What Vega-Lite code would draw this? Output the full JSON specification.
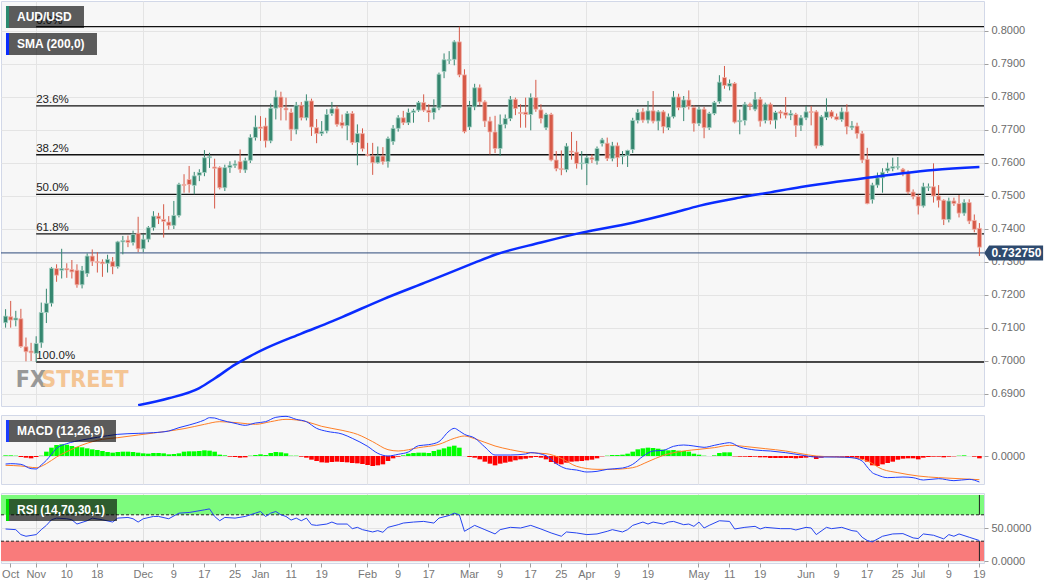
{
  "$schema": "https://vega.github.io/schema/vega-lite/v6.json",
  "padding": 0,
  "background": "#ffffff",
  "spacing": 9,
  "bounds": "flush",
  "config": {
    "font": "Liberation Sans",
    "view": {"fill": "#f7f7f7", "stroke": "#d2d8e8", "strokeWidth": 1},
    "axis": {"labelFont": "Liberation Sans", "labelFontSize": 11, "labelColor": "#6b6b6b", "tickColor": "#a0a0a0", "gridColor": "#e4e4e4", "domain": false, "labelOverlap": false, "labelBound": false, "labelFlush": false, "title": null}
  },
  "resolve": {"scale": {"x": "shared"}},
  "datasets": {
    "one": [{}],
    "px": [
{"d":"2020-10-23","o":0.7116,"h":0.7157,"l":0.7101,"c":0.7136,"m":0.0002},
{"d":"2020-10-26","o":0.7134,"h":0.7182,"l":0.7101,"c":0.7124,"m":0.0002},
{"d":"2020-10-27","o":0.7124,"h":0.7152,"l":0.7105,"c":0.7130,"m":0.0001},
{"d":"2020-10-28","o":0.7128,"h":0.7158,"l":0.7040,"c":0.7044,"m":-0.0003},
{"d":"2020-10-29","o":0.7043,"h":0.7071,"l":0.6999,"c":0.7028,"m":-0.0005},
{"d":"2020-10-30","o":0.7030,"h":0.7055,"l":0.7000,"c":0.7025,"m":-0.0007},
{"d":"2020-11-02","o":0.7023,"h":0.7075,"l":0.6997,"c":0.7053,"m":-0.0003},
{"d":"2020-11-03","o":0.7055,"h":0.7177,"l":0.7040,"c":0.7147,"m":0.0001},
{"d":"2020-11-04","o":0.7147,"h":0.7219,"l":0.7115,"c":0.7175,"m":0.0013},
{"d":"2020-11-05","o":0.7175,"h":0.7285,"l":0.7165,"c":0.7281,"m":0.0025},
{"d":"2020-11-06","o":0.7280,"h":0.7293,"l":0.7240,"c":0.7260,"m":0.0033},
{"d":"2020-11-09","o":0.7275,"h":0.7340,"l":0.7250,"c":0.7280,"m":0.0035},
{"d":"2020-11-10","o":0.7280,"h":0.7296,"l":0.7252,"c":0.7276,"m":0.0034},
{"d":"2020-11-11","o":0.7277,"h":0.7306,"l":0.7250,"c":0.7270,"m":0.0030},
{"d":"2020-11-12","o":0.7275,"h":0.7293,"l":0.7222,"c":0.7231,"m":0.0027},
{"d":"2020-11-13","o":0.7231,"h":0.7288,"l":0.7220,"c":0.7274,"m":0.0026},
{"d":"2020-11-16","o":0.7265,"h":0.7326,"l":0.7255,"c":0.7318,"m":0.0023},
{"d":"2020-11-17","o":0.7318,"h":0.7338,"l":0.7288,"c":0.7302,"m":0.0020},
{"d":"2020-11-18","o":0.7301,"h":0.7330,"l":0.7268,"c":0.7298,"m":0.0018},
{"d":"2020-11-19","o":0.7300,"h":0.7308,"l":0.7255,"c":0.7295,"m":0.0015},
{"d":"2020-11-20","o":0.7296,"h":0.7322,"l":0.7268,"c":0.7308,"m":0.0012},
{"d":"2020-11-23","o":0.7301,"h":0.7315,"l":0.7263,"c":0.7286,"m":0.0010},
{"d":"2020-11-24","o":0.7286,"h":0.7364,"l":0.7280,"c":0.7361,"m":0.0012},
{"d":"2020-11-25","o":0.7361,"h":0.7379,"l":0.7323,"c":0.7365,"m":0.0013},
{"d":"2020-11-26","o":0.7366,"h":0.7380,"l":0.7345,"c":0.7359,"m":0.0013},
{"d":"2020-11-27","o":0.7359,"h":0.7395,"l":0.7350,"c":0.7384,"m":0.0012},
{"d":"2020-11-30","o":0.7387,"h":0.7437,"l":0.7330,"c":0.7340,"m":0.0010},
{"d":"2020-12-01","o":0.7340,"h":0.7385,"l":0.7330,"c":0.7369,"m":0.0008},
{"d":"2020-12-02","o":0.7369,"h":0.7409,"l":0.7360,"c":0.7404,"m":0.0007},
{"d":"2020-12-03","o":0.7404,"h":0.7454,"l":0.7395,"c":0.7439,"m":0.0009},
{"d":"2020-12-04","o":0.7439,"h":0.7449,"l":0.7415,"c":0.7431,"m":0.0009},
{"d":"2020-12-07","o":0.7429,"h":0.7475,"l":0.7374,"c":0.7423,"m":0.0008},
{"d":"2020-12-08","o":0.7421,"h":0.7439,"l":0.7398,"c":0.7411,"m":0.0005},
{"d":"2020-12-09","o":0.7411,"h":0.7485,"l":0.7400,"c":0.7441,"m":0.0006},
{"d":"2020-12-10","o":0.7441,"h":0.7540,"l":0.7435,"c":0.7535,"m":0.0008},
{"d":"2020-12-11","o":0.7535,"h":0.7566,"l":0.7510,"c":0.7532,"m":0.0013},
{"d":"2020-12-14","o":0.7550,"h":0.7591,"l":0.7510,"c":0.7535,"m":0.0014},
{"d":"2020-12-15","o":0.7532,"h":0.7573,"l":0.7505,"c":0.7561,"m":0.0014},
{"d":"2020-12-16","o":0.7563,"h":0.7581,"l":0.7545,"c":0.7571,"m":0.0015},
{"d":"2020-12-17","o":0.7571,"h":0.7639,"l":0.7560,"c":0.7616,"m":0.0017},
{"d":"2020-12-18","o":0.7616,"h":0.7631,"l":0.7585,"c":0.7619,"m":0.0016},
{"d":"2020-12-21","o":0.7588,"h":0.7613,"l":0.7462,"c":0.7584,"m":0.0013},
{"d":"2020-12-22","o":0.7586,"h":0.7590,"l":0.7520,"c":0.7525,"m":0.0004},
{"d":"2020-12-23","o":0.7525,"h":0.7595,"l":0.7515,"c":0.7586,"m":0.0002},
{"d":"2020-12-24","o":0.7586,"h":0.7605,"l":0.7570,"c":0.7593,"m":-0.0002},
{"d":"2020-12-25","o":0.7593,"h":0.7608,"l":0.7585,"c":0.7597,"m":-0.0003},
{"d":"2020-12-28","o":0.7604,"h":0.7641,"l":0.7570,"c":0.7581,"m":-0.0005},
{"d":"2020-12-29","o":0.7579,"h":0.7616,"l":0.7570,"c":0.7607,"m":-0.0004},
{"d":"2020-12-30","o":0.7608,"h":0.7687,"l":0.7600,"c":0.7677,"m":0.0001},
{"d":"2020-12-31","o":0.7677,"h":0.7744,"l":0.7668,"c":0.7709,"m":0.0003},
{"d":"2021-01-01","o":0.7709,"h":0.7742,"l":0.7667,"c":0.7705,"m":0.0005},
{"d":"2021-01-04","o":0.7712,"h":0.7737,"l":0.7647,"c":0.7667,"m":0.0003},
{"d":"2021-01-05","o":0.7667,"h":0.7780,"l":0.7660,"c":0.7766,"m":0.0009},
{"d":"2021-01-06","o":0.7766,"h":0.7820,"l":0.7732,"c":0.7800,"m":0.0012},
{"d":"2021-01-07","o":0.7800,"h":0.7816,"l":0.7729,"c":0.7768,"m":0.0011},
{"d":"2021-01-08","o":0.7766,"h":0.7798,"l":0.7729,"c":0.7761,"m":0.0008},
{"d":"2021-01-11","o":0.7753,"h":0.7765,"l":0.7667,"c":0.7702,"m":0.0001},
{"d":"2021-01-12","o":0.7702,"h":0.7785,"l":0.7687,"c":0.7775,"m":0.0001},
{"d":"2021-01-13","o":0.7775,"h":0.7785,"l":0.7729,"c":0.7737,"m":-0.0002},
{"d":"2021-01-14","o":0.7737,"h":0.7808,"l":0.7729,"c":0.7788,"m":-0.0005},
{"d":"2021-01-15","o":0.7788,"h":0.7795,"l":0.7682,"c":0.7709,"m":-0.0011},
{"d":"2021-01-18","o":0.7707,"h":0.7733,"l":0.7660,"c":0.7689,"m":-0.0015},
{"d":"2021-01-19","o":0.7689,"h":0.7727,"l":0.7682,"c":0.7695,"m":-0.0019},
{"d":"2021-01-20","o":0.7697,"h":0.7763,"l":0.7690,"c":0.7747,"m":-0.0020},
{"d":"2021-01-21","o":0.7750,"h":0.7785,"l":0.7743,"c":0.7764,"m":-0.0018},
{"d":"2021-01-22","o":0.7764,"h":0.7773,"l":0.7710,"c":0.7717,"m":-0.0017},
{"d":"2021-01-25","o":0.7723,"h":0.7747,"l":0.7705,"c":0.7713,"m":-0.0018},
{"d":"2021-01-26","o":0.7713,"h":0.7757,"l":0.7669,"c":0.7750,"m":-0.0019},
{"d":"2021-01-27","o":0.7750,"h":0.7757,"l":0.7655,"c":0.7662,"m":-0.0021},
{"d":"2021-01-28","o":0.7662,"h":0.7717,"l":0.7593,"c":0.7689,"m":-0.0022},
{"d":"2021-01-29","o":0.7689,"h":0.7705,"l":0.7635,"c":0.7643,"m":-0.0024},
{"d":"2021-02-01","o":0.7626,"h":0.7661,"l":0.7620,"c":0.7623,"m":-0.0027},
{"d":"2021-02-02","o":0.7621,"h":0.7661,"l":0.7564,"c":0.7601,"m":-0.0030},
{"d":"2021-02-03","o":0.7601,"h":0.7650,"l":0.7598,"c":0.7621,"m":-0.0028},
{"d":"2021-02-04","o":0.7621,"h":0.7648,"l":0.7595,"c":0.7604,"m":-0.0025},
{"d":"2021-02-05","o":0.7604,"h":0.7680,"l":0.7586,"c":0.7674,"m":-0.0015},
{"d":"2021-02-08","o":0.7665,"h":0.7715,"l":0.7655,"c":0.7705,"m":-0.0007},
{"d":"2021-02-09","o":0.7705,"h":0.7745,"l":0.7695,"c":0.7737,"m":-0.0002},
{"d":"2021-02-10","o":0.7737,"h":0.7758,"l":0.7715,"c":0.7722,"m":0.0002},
{"d":"2021-02-11","o":0.7722,"h":0.7765,"l":0.7715,"c":0.7753,"m":0.0007},
{"d":"2021-02-12","o":0.7753,"h":0.7764,"l":0.7722,"c":0.7758,"m":0.0009},
{"d":"2021-02-15","o":0.7760,"h":0.7788,"l":0.7755,"c":0.7783,"m":0.0010},
{"d":"2021-02-16","o":0.7783,"h":0.7808,"l":0.7755,"c":0.7760,"m":0.0010},
{"d":"2021-02-17","o":0.7760,"h":0.7778,"l":0.7724,"c":0.7753,"m":0.0009},
{"d":"2021-02-18","o":0.7753,"h":0.7793,"l":0.7732,"c":0.7767,"m":0.0015},
{"d":"2021-02-19","o":0.7767,"h":0.7874,"l":0.7760,"c":0.7869,"m":0.0019},
{"d":"2021-02-22","o":0.7877,"h":0.7932,"l":0.7857,"c":0.7913,"m":0.0023},
{"d":"2021-02-23","o":0.7911,"h":0.7939,"l":0.7900,"c":0.7913,"m":0.0028},
{"d":"2021-02-24","o":0.7914,"h":0.7972,"l":0.7896,"c":0.7967,"m":0.0031},
{"d":"2021-02-25","o":0.7967,"h":0.8013,"l":0.7860,"c":0.7867,"m":0.0025},
{"d":"2021-02-26","o":0.7867,"h":0.7884,"l":0.7690,"c":0.7695,"m":0.0000},
{"d":"2021-03-01","o":0.7709,"h":0.7788,"l":0.7700,"c":0.7770,"m":-0.0003},
{"d":"2021-03-02","o":0.7770,"h":0.7840,"l":0.7760,"c":0.7828,"m":-0.0005},
{"d":"2021-03-03","o":0.7828,"h":0.7838,"l":0.7775,"c":0.7785,"m":-0.0010},
{"d":"2021-03-04","o":0.7785,"h":0.7790,"l":0.7709,"c":0.7727,"m":-0.0017},
{"d":"2021-03-05","o":0.7727,"h":0.7740,"l":0.7626,"c":0.7694,"m":-0.0023},
{"d":"2021-03-08","o":0.7694,"h":0.7743,"l":0.7630,"c":0.7644,"m":-0.0028},
{"d":"2021-03-09","o":0.7644,"h":0.7747,"l":0.7621,"c":0.7717,"m":-0.0023},
{"d":"2021-03-10","o":0.7717,"h":0.7747,"l":0.7705,"c":0.7735,"m":-0.0020},
{"d":"2021-03-11","o":0.7735,"h":0.7803,"l":0.7727,"c":0.7793,"m":-0.0017},
{"d":"2021-03-12","o":0.7793,"h":0.7798,"l":0.7745,"c":0.7765,"m":-0.0013},
{"d":"2021-03-15","o":0.7753,"h":0.7778,"l":0.7707,"c":0.7750,"m":-0.0010},
{"d":"2021-03-16","o":0.7754,"h":0.7798,"l":0.7707,"c":0.7747,"m":-0.0008},
{"d":"2021-03-17","o":0.7747,"h":0.7811,"l":0.7699,"c":0.7798,"m":-0.0005},
{"d":"2021-03-18","o":0.7798,"h":0.7852,"l":0.7755,"c":0.7763,"m":-0.0003},
{"d":"2021-03-19","o":0.7761,"h":0.7778,"l":0.7720,"c":0.7735,"m":-0.0005},
{"d":"2021-03-22","o":0.7707,"h":0.7752,"l":0.7700,"c":0.7747,"m":-0.0010},
{"d":"2021-03-23","o":0.7747,"h":0.7752,"l":0.7605,"c":0.7609,"m":-0.0018},
{"d":"2021-03-24","o":0.7609,"h":0.7636,"l":0.7575,"c":0.7583,"m":-0.0023},
{"d":"2021-03-25","o":0.7583,"h":0.7638,"l":0.7563,"c":0.7580,"m":-0.0025},
{"d":"2021-03-26","o":0.7580,"h":0.7660,"l":0.7572,"c":0.7651,"m":-0.0020},
{"d":"2021-03-29","o":0.7636,"h":0.7694,"l":0.7610,"c":0.7633,"m":-0.0017},
{"d":"2021-03-30","o":0.7633,"h":0.7667,"l":0.7583,"c":0.7598,"m":-0.0016},
{"d":"2021-03-31","o":0.7598,"h":0.7636,"l":0.7580,"c":0.7600,"m":-0.0015},
{"d":"2021-04-01","o":0.7598,"h":0.7625,"l":0.7533,"c":0.7616,"m":-0.0013},
{"d":"2021-04-02","o":0.7616,"h":0.7626,"l":0.7600,"c":0.7611,"m":-0.0011},
{"d":"2021-04-05","o":0.7606,"h":0.7650,"l":0.7595,"c":0.7644,"m":-0.0007},
{"d":"2021-04-06","o":0.7659,"h":0.7676,"l":0.7650,"c":0.7670,"m":-0.0001},
{"d":"2021-04-07","o":0.7660,"h":0.7677,"l":0.7606,"c":0.7614,"m":0.0001},
{"d":"2021-04-08","o":0.7614,"h":0.7664,"l":0.7605,"c":0.7652,"m":0.0003},
{"d":"2021-04-09","o":0.7652,"h":0.7662,"l":0.7588,"c":0.7616,"m":0.0003},
{"d":"2021-04-12","o":0.7620,"h":0.7636,"l":0.7596,"c":0.7622,"m":0.0004},
{"d":"2021-04-13","o":0.7623,"h":0.7640,"l":0.7588,"c":0.7638,"m":0.0007},
{"d":"2021-04-14","o":0.7641,"h":0.7737,"l":0.7630,"c":0.7729,"m":0.0013},
{"d":"2021-04-15","o":0.7729,"h":0.7763,"l":0.7720,"c":0.7753,"m":0.0020},
{"d":"2021-04-16","o":0.7755,"h":0.7766,"l":0.7722,"c":0.7730,"m":0.0023},
{"d":"2021-04-19","o":0.7730,"h":0.7788,"l":0.7720,"c":0.7758,"m":0.0025},
{"d":"2021-04-20","o":0.7758,"h":0.7818,"l":0.7720,"c":0.7727,"m":0.0024},
{"d":"2021-04-21","o":0.7727,"h":0.7760,"l":0.7699,"c":0.7755,"m":0.0022},
{"d":"2021-04-22","o":0.7755,"h":0.7760,"l":0.7690,"c":0.7710,"m":0.0019},
{"d":"2021-04-23","o":0.7707,"h":0.7750,"l":0.7700,"c":0.7740,"m":0.0017},
{"d":"2021-04-26","o":0.7740,"h":0.7818,"l":0.7735,"c":0.7800,"m":0.0018},
{"d":"2021-04-27","o":0.7800,"h":0.7810,"l":0.7760,"c":0.7768,"m":0.0016},
{"d":"2021-04-28","o":0.7768,"h":0.7803,"l":0.7727,"c":0.7791,"m":0.0015},
{"d":"2021-04-29","o":0.7791,"h":0.7820,"l":0.7762,"c":0.7771,"m":0.0013},
{"d":"2021-04-30","o":0.7768,"h":0.7775,"l":0.7695,"c":0.7720,"m":0.0007},
{"d":"2021-05-03","o":0.7720,"h":0.7770,"l":0.7712,"c":0.7763,"m":0.0004},
{"d":"2021-05-04","o":0.7763,"h":0.7770,"l":0.7675,"c":0.7707,"m":0.0001},
{"d":"2021-05-05","o":0.7707,"h":0.7755,"l":0.7700,"c":0.7750,"m":0.0000},
{"d":"2021-05-06","o":0.7750,"h":0.7788,"l":0.7745,"c":0.7783,"m":0.0002},
{"d":"2021-05-07","o":0.7786,"h":0.7866,"l":0.7780,"c":0.7845,"m":0.0009},
{"d":"2021-05-10","o":0.7859,"h":0.7894,"l":0.7825,"c":0.7835,"m":0.0011},
{"d":"2021-05-11","o":0.7833,"h":0.7853,"l":0.7820,"c":0.7841,"m":0.0011},
{"d":"2021-05-12","o":0.7841,"h":0.7845,"l":0.7720,"c":0.7724,"m":-0.0001},
{"d":"2021-05-13","o":0.7725,"h":0.7762,"l":0.7687,"c":0.7729,"m":-0.0002},
{"d":"2021-05-14","o":0.7729,"h":0.7785,"l":0.7714,"c":0.7778,"m":-0.0002},
{"d":"2021-05-17","o":0.7778,"h":0.7783,"l":0.7760,"c":0.7773,"m":-0.0003},
{"d":"2021-05-18","o":0.7763,"h":0.7815,"l":0.7757,"c":0.7793,"m":-0.0002},
{"d":"2021-05-19","o":0.7793,"h":0.7800,"l":0.7710,"c":0.7727,"m":-0.0004},
{"d":"2021-05-20","o":0.7729,"h":0.7783,"l":0.7720,"c":0.7778,"m":-0.0004},
{"d":"2021-05-21","o":0.7778,"h":0.7783,"l":0.7717,"c":0.7729,"m":-0.0006},
{"d":"2021-05-24","o":0.7730,"h":0.7758,"l":0.7704,"c":0.7753,"m":-0.0006},
{"d":"2021-05-25","o":0.7755,"h":0.7760,"l":0.7735,"c":0.7751,"m":-0.0006},
{"d":"2021-05-26","o":0.7753,"h":0.7800,"l":0.7735,"c":0.7745,"m":-0.0006},
{"d":"2021-05-27","o":0.7745,"h":0.7760,"l":0.7730,"c":0.7750,"m":-0.0006},
{"d":"2021-05-28","o":0.7747,"h":0.7752,"l":0.7679,"c":0.7714,"m":-0.0007},
{"d":"2021-05-31","o":0.7714,"h":0.7745,"l":0.7697,"c":0.7737,"m":-0.0006},
{"d":"2021-06-01","o":0.7737,"h":0.7773,"l":0.7730,"c":0.7755,"m":-0.0005},
{"d":"2021-06-02","o":0.7756,"h":0.7773,"l":0.7714,"c":0.7753,"m":-0.0003},
{"d":"2021-06-03","o":0.7755,"h":0.7760,"l":0.7644,"c":0.7652,"m":-0.0009},
{"d":"2021-06-04","o":0.7653,"h":0.7745,"l":0.7650,"c":0.7740,"m":-0.0005},
{"d":"2021-06-07","o":0.7738,"h":0.7796,"l":0.7730,"c":0.7755,"m":-0.0002},
{"d":"2021-06-08","o":0.7755,"h":0.7760,"l":0.7735,"c":0.7740,"m":-0.0002},
{"d":"2021-06-09","o":0.7740,"h":0.7750,"l":0.7729,"c":0.7732,"m":-0.0002},
{"d":"2021-06-10","o":0.7732,"h":0.7768,"l":0.7725,"c":0.7755,"m":-0.0002},
{"d":"2021-06-11","o":0.7755,"h":0.7778,"l":0.7687,"c":0.7710,"m":-0.0003},
{"d":"2021-06-14","o":0.7707,"h":0.7727,"l":0.7700,"c":0.7712,"m":-0.0003},
{"d":"2021-06-15","o":0.7712,"h":0.7722,"l":0.7674,"c":0.7689,"m":-0.0005},
{"d":"2021-06-16","o":0.7689,"h":0.7697,"l":0.7600,"c":0.7609,"m":-0.0009},
{"d":"2021-06-17","o":0.7611,"h":0.7646,"l":0.7475,"c":0.7477,"m":-0.0017},
{"d":"2021-06-18","o":0.7489,"h":0.7540,"l":0.7477,"c":0.7533,"m":-0.0028},
{"d":"2021-06-21","o":0.7533,"h":0.7571,"l":0.7525,"c":0.7555,"m":-0.0030},
{"d":"2021-06-22","o":0.7555,"h":0.7584,"l":0.7510,"c":0.7572,"m":-0.0025},
{"d":"2021-06-23","o":0.7576,"h":0.7601,"l":0.7570,"c":0.7584,"m":-0.0021},
{"d":"2021-06-24","o":0.7584,"h":0.7616,"l":0.7575,"c":0.7589,"m":-0.0017},
{"d":"2021-06-25","o":0.7587,"h":0.7618,"l":0.7580,"c":0.7589,"m":-0.0011},
{"d":"2021-06-28","o":0.7581,"h":0.7585,"l":0.7560,"c":0.7571,"m":-0.0008},
{"d":"2021-06-29","o":0.7571,"h":0.7578,"l":0.7505,"c":0.7512,"m":-0.0007},
{"d":"2021-06-30","o":0.7512,"h":0.7520,"l":0.7490,"c":0.7498,"m":-0.0007},
{"d":"2021-07-01","o":0.7498,"h":0.7505,"l":0.7444,"c":0.7470,"m":-0.0010},
{"d":"2021-07-02","o":0.7470,"h":0.7540,"l":0.7465,"c":0.7528,"m":-0.0005},
{"d":"2021-07-05","o":0.7525,"h":0.7538,"l":0.7515,"c":0.7528,"m":-0.0003},
{"d":"2021-07-06","o":0.7528,"h":0.7599,"l":0.7480,"c":0.7500,"m":-0.0002},
{"d":"2021-07-07","o":0.7500,"h":0.7533,"l":0.7465,"c":0.7487,"m":-0.0002},
{"d":"2021-07-08","o":0.7487,"h":0.7490,"l":0.7412,"c":0.7429,"m":-0.0004},
{"d":"2021-07-09","o":0.7429,"h":0.7495,"l":0.7420,"c":0.7485,"m":-0.0002},
{"d":"2021-07-12","o":0.7485,"h":0.7495,"l":0.7470,"c":0.7477,"m":-0.0001},
{"d":"2021-07-13","o":0.7477,"h":0.7503,"l":0.7435,"c":0.7448,"m":0.0001},
{"d":"2021-07-14","o":0.7448,"h":0.7490,"l":0.7440,"c":0.7480,"m":0.0002},
{"d":"2021-07-15","o":0.7480,"h":0.7490,"l":0.7415,"c":0.7424,"m":0.0000},
{"d":"2021-07-16","o":0.7426,"h":0.7444,"l":0.7390,"c":0.7399,"m":-0.0002},
{"d":"2021-07-19","o":0.7402,"h":0.7418,"l":0.7318,"c":0.7345,"m":-0.0007}
    ],
    "sma": [
{"d":"2020-11-30","v":0.6866},{"d":"2020-12-08","v":0.6887},{"d":"2020-12-16","v":0.6918},{"d":"2020-12-21","v":0.6947},{"d":"2020-12-25","v":0.6989},{"d":"2020-12-30","v":0.7015},{"d":"2021-01-04","v":0.7038},{"d":"2021-01-13","v":0.7083},{"d":"2021-01-21","v":0.7120},{"d":"2021-01-25","v":0.7133},{"d":"2021-02-04","v":0.7187},{"d":"2021-02-17","v":0.7242},{"d":"2021-03-02","v":0.7298},{"d":"2021-03-08","v":0.7322},{"d":"2021-03-19","v":0.7359},{"d":"2021-03-31","v":0.7389},{"d":"2021-04-14","v":0.7419},{"d":"2021-04-26","v":0.7449},{"d":"2021-05-03","v":0.7470},{"d":"2021-05-13","v":0.7495},{"d":"2021-05-21","v":0.7511},{"d":"2021-05-31","v":0.7527},{"d":"2021-06-09","v":0.7543},{"d":"2021-06-17","v":0.7555},{"d":"2021-06-28","v":0.7569},{"d":"2021-07-06","v":0.7579},{"d":"2021-07-19","v":0.7588}
    ],
    "macd": [
{"d":"2020-10-23","v":-0.0024},{"d":"2020-10-26","v":-0.0023},{"d":"2020-10-28","v":-0.0025},{"d":"2020-10-30","v":-0.0038},{"d":"2020-11-02","v":-0.0039},{"d":"2020-11-03","v":-0.0027},{"d":"2020-11-04","v":-0.0013},{"d":"2020-11-05","v":0.0005},{"d":"2020-11-06","v":0.0023},{"d":"2020-11-10","v":0.0037},{"d":"2020-11-13","v":0.0048},{"d":"2020-11-18","v":0.0056},{"d":"2020-11-24","v":0.0065},{"d":"2020-11-30","v":0.0068},{"d":"2020-12-03","v":0.0070},{"d":"2020-12-08","v":0.0075},{"d":"2020-12-10","v":0.0085},{"d":"2020-12-14","v":0.0093},{"d":"2020-12-17","v":0.0108},{"d":"2020-12-18","v":0.0115},{"d":"2020-12-21","v":0.0114},{"d":"2020-12-22","v":0.0109},{"d":"2020-12-25","v":0.0098},{"d":"2020-12-29","v":0.0092},{"d":"2020-12-31","v":0.0099},{"d":"2021-01-04","v":0.0103},{"d":"2021-01-06","v":0.0116},{"d":"2021-01-08","v":0.0119},{"d":"2021-01-12","v":0.0110},{"d":"2021-01-14","v":0.0103},{"d":"2021-01-18","v":0.0083},{"d":"2021-01-20","v":0.0074},{"d":"2021-01-25","v":0.0066},{"d":"2021-01-27","v":0.0053},{"d":"2021-02-01","v":0.0029},{"d":"2021-02-03","v":0.0008},{"d":"2021-02-05","v":0.0000},{"d":"2021-02-09","v":0.0005},{"d":"2021-02-11","v":0.0012},{"d":"2021-02-15","v":0.0031},{"d":"2021-02-17","v":0.0034},{"d":"2021-02-19","v":0.0043},{"d":"2021-02-23","v":0.0075},{"d":"2021-02-24","v":0.0083},{"d":"2021-02-25","v":0.0075},{"d":"2021-02-26","v":0.0065},{"d":"2021-03-02","v":0.0054},{"d":"2021-03-04","v":0.0027},{"d":"2021-03-08","v":0.0003},{"d":"2021-03-11","v":0.0003},{"d":"2021-03-16","v":0.0006},{"d":"2021-03-17","v":0.0010},{"d":"2021-03-22","v":0.0001},{"d":"2021-03-24","v":-0.0023},{"d":"2021-03-26","v":-0.0038},{"d":"2021-03-30","v":-0.0042},{"d":"2021-04-01","v":-0.0048},{"d":"2021-04-05","v":-0.0046},{"d":"2021-04-07","v":-0.0040},{"d":"2021-04-12","v":-0.0036},{"d":"2021-04-14","v":-0.0025},{"d":"2021-04-16","v":-0.0001},{"d":"2021-04-20","v":0.0015},{"d":"2021-04-22","v":0.0017},{"d":"2021-04-26","v":0.0029},{"d":"2021-04-28","v":0.0033},{"d":"2021-04-30","v":0.0030},{"d":"2021-05-04","v":0.0026},{"d":"2021-05-06","v":0.0032},{"d":"2021-05-10","v":0.0038},{"d":"2021-05-11","v":0.0040},{"d":"2021-05-13","v":0.0027},{"d":"2021-05-18","v":0.0018},{"d":"2021-05-21","v":0.0015},{"d":"2021-05-26","v":0.0010},{"d":"2021-05-31","v":0.0003},{"d":"2021-06-03","v":-0.0003},{"d":"2021-06-09","v":-0.0003},{"d":"2021-06-14","v":-0.0005},{"d":"2021-06-16","v":-0.0015},{"d":"2021-06-17","v":-0.0033},{"d":"2021-06-18","v":-0.0050},{"d":"2021-06-21","v":-0.0057},{"d":"2021-06-23","v":-0.0065},{"d":"2021-06-28","v":-0.0063},{"d":"2021-06-30","v":-0.0065},{"d":"2021-07-02","v":-0.0072},{"d":"2021-07-07","v":-0.0068},{"d":"2021-07-12","v":-0.0074},{"d":"2021-07-15","v":-0.0070},{"d":"2021-07-19","v":-0.0078}
    ],
    "sig": [
{"d":"2020-10-23","v":-0.0028},{"d":"2020-10-28","v":-0.0030},{"d":"2020-11-02","v":-0.0035},{"d":"2020-11-04","v":-0.0023},{"d":"2020-11-06","v":-0.0003},{"d":"2020-11-10","v":0.0013},{"d":"2020-11-13","v":0.0033},{"d":"2020-11-19","v":0.0050},{"d":"2020-11-24","v":0.0055},{"d":"2020-11-30","v":0.0063},{"d":"2020-12-08","v":0.0075},{"d":"2020-12-11","v":0.0082},{"d":"2020-12-17","v":0.0095},{"d":"2020-12-22","v":0.0103},{"d":"2020-12-28","v":0.0099},{"d":"2020-12-31","v":0.0095},{"d":"2021-01-05","v":0.0103},{"d":"2021-01-08","v":0.0110},{"d":"2021-01-14","v":0.0103},{"d":"2021-01-19","v":0.0089},{"d":"2021-01-25","v":0.0077},{"d":"2021-01-28","v":0.0065},{"d":"2021-02-02","v":0.0043},{"d":"2021-02-05","v":0.0019},{"d":"2021-02-09","v":0.0015},{"d":"2021-02-15","v":0.0025},{"d":"2021-02-19","v":0.0035},{"d":"2021-02-24","v":0.0053},{"d":"2021-02-26","v":0.0060},{"d":"2021-03-02","v":0.0052},{"d":"2021-03-08","v":0.0030},{"d":"2021-03-11","v":0.0019},{"d":"2021-03-16","v":0.0011},{"d":"2021-03-22","v":0.0007},{"d":"2021-03-25","v":-0.0007},{"d":"2021-03-30","v":-0.0031},{"d":"2021-04-05","v":-0.0040},{"d":"2021-04-08","v":-0.0040},{"d":"2021-04-14","v":-0.0035},{"d":"2021-04-19","v":-0.0017},{"d":"2021-04-22","v":0.0002},{"d":"2021-04-28","v":0.0015},{"d":"2021-05-03","v":0.0020},{"d":"2021-05-06","v":0.0025},{"d":"2021-05-11","v":0.0032},{"d":"2021-05-17","v":0.0027},{"d":"2021-05-20","v":0.0022},{"d":"2021-05-26","v":0.0015},{"d":"2021-05-31","v":0.0007},{"d":"2021-06-03","v":0.0000},{"d":"2021-06-09","v":-0.0003},{"d":"2021-06-14","v":-0.0005},{"d":"2021-06-17","v":-0.0015},{"d":"2021-06-22","v":-0.0040},{"d":"2021-06-25","v":-0.0050},{"d":"2021-07-01","v":-0.0060},{"d":"2021-07-07","v":-0.0065},{"d":"2021-07-13","v":-0.0068},{"d":"2021-07-19","v":-0.0071}
    ],
    "rsi": [
{"d":"2020-10-23","v":48.5},{"d":"2020-10-27","v":47.5},{"d":"2020-10-28","v":40},{"d":"2020-10-29","v":37.5},{"d":"2020-11-02","v":40},{"d":"2020-11-03","v":47.5},{"d":"2020-11-04","v":54},{"d":"2020-11-05","v":62.5},{"d":"2020-11-06","v":65},{"d":"2020-11-10","v":64},{"d":"2020-11-11","v":62.5},{"d":"2020-11-12","v":56},{"d":"2020-11-16","v":61},{"d":"2020-11-17","v":65},{"d":"2020-11-19","v":62.5},{"d":"2020-11-23","v":59},{"d":"2020-11-24","v":65},{"d":"2020-11-26","v":66},{"d":"2020-11-27","v":64},{"d":"2020-11-30","v":59},{"d":"2020-12-01","v":64},{"d":"2020-12-03","v":67.5},{"d":"2020-12-04","v":67.5},{"d":"2020-12-08","v":64},{"d":"2020-12-10","v":72.5},{"d":"2020-12-14","v":73.5},{"d":"2020-12-17","v":77.5},{"d":"2020-12-18","v":79},{"d":"2020-12-21","v":67.5},{"d":"2020-12-22","v":61},{"d":"2020-12-23","v":66},{"d":"2020-12-25","v":65},{"d":"2020-12-29","v":67.5},{"d":"2020-12-31","v":72.5},{"d":"2021-01-01","v":75},{"d":"2021-01-04","v":67.5},{"d":"2021-01-05","v":72.5},{"d":"2021-01-06","v":75},{"d":"2021-01-07","v":70},{"d":"2021-01-08","v":67.5},{"d":"2021-01-11","v":62},{"d":"2021-01-12","v":65},{"d":"2021-01-13","v":61},{"d":"2021-01-14","v":65},{"d":"2021-01-15","v":55},{"d":"2021-01-18","v":54},{"d":"2021-01-20","v":56},{"d":"2021-01-21","v":59},{"d":"2021-01-22","v":56},{"d":"2021-01-26","v":56},{"d":"2021-01-27","v":49},{"d":"2021-01-28","v":51},{"d":"2021-01-29","v":47.5},{"d":"2021-02-02","v":44},{"d":"2021-02-03","v":46},{"d":"2021-02-04","v":43.5},{"d":"2021-02-05","v":51},{"d":"2021-02-09","v":55},{"d":"2021-02-10","v":57.5},{"d":"2021-02-12","v":59},{"d":"2021-02-16","v":60},{"d":"2021-02-18","v":57.5},{"d":"2021-02-19","v":65},{"d":"2021-02-23","v":69},{"d":"2021-02-24","v":72.5},{"d":"2021-02-25","v":70},{"d":"2021-02-26","v":45},{"d":"2021-03-02","v":54},{"d":"2021-03-04","v":47.5},{"d":"2021-03-08","v":41},{"d":"2021-03-09","v":47.5},{"d":"2021-03-11","v":51},{"d":"2021-03-15","v":50},{"d":"2021-03-17","v":54},{"d":"2021-03-19","v":48.5},{"d":"2021-03-23","v":42.5},{"d":"2021-03-25","v":37.5},{"d":"2021-03-26","v":44},{"d":"2021-03-30","v":42.5},{"d":"2021-04-01","v":40},{"d":"2021-04-05","v":41},{"d":"2021-04-07","v":45},{"d":"2021-04-08","v":47.5},{"d":"2021-04-12","v":44},{"d":"2021-04-13","v":47.5},{"d":"2021-04-14","v":54},{"d":"2021-04-16","v":59},{"d":"2021-04-19","v":56},{"d":"2021-04-20","v":59},{"d":"2021-04-22","v":56},{"d":"2021-04-23","v":59},{"d":"2021-04-26","v":60},{"d":"2021-04-28","v":55},{"d":"2021-04-29","v":56},{"d":"2021-04-30","v":52.5},{"d":"2021-05-03","v":59},{"d":"2021-05-04","v":50},{"d":"2021-05-05","v":54},{"d":"2021-05-07","v":61},{"d":"2021-05-11","v":60},{"d":"2021-05-12","v":48.5},{"d":"2021-05-14","v":51},{"d":"2021-05-18","v":52.5},{"d":"2021-05-19","v":48.5},{"d":"2021-05-20","v":51},{"d":"2021-05-25","v":49},{"d":"2021-05-27","v":49},{"d":"2021-05-28","v":47},{"d":"2021-06-01","v":51},{"d":"2021-06-02","v":50},{"d":"2021-06-03","v":40},{"d":"2021-06-07","v":51},{"d":"2021-06-08","v":49},{"d":"2021-06-10","v":51},{"d":"2021-06-14","v":46},{"d":"2021-06-15","v":45},{"d":"2021-06-16","v":36},{"d":"2021-06-17","v":31},{"d":"2021-06-18","v":29},{"d":"2021-06-22","v":37.5},{"d":"2021-06-24","v":41},{"d":"2021-06-28","v":41.5},{"d":"2021-06-30","v":35},{"d":"2021-07-01","v":34},{"d":"2021-07-02","v":41},{"d":"2021-07-06","v":39},{"d":"2021-07-08","v":33.5},{"d":"2021-07-09","v":40},{"d":"2021-07-12","v":37.5},{"d":"2021-07-13","v":41},{"d":"2021-07-15","v":36},{"d":"2021-07-19","v":31}
    ],
    "fib": [
{"lv":"0.0%","p":0.8013},{"lv":"23.6%","p":0.7773},{"lv":"38.2%","p":0.7625},{"lv":"50.0%","p":0.7505},{"lv":"61.8%","p":0.7385},{"lv":"100.0%","p":0.6997}
    ]
  },
  "vconcat": [
    {
      "width": 983,
      "height": 405,
      "layer": [
        {
          "data": {"name": "fib"},
          "mark": {"type": "rule", "color": "#111111", "strokeWidth": 1.3},
          "encoding": {
            "x": {"datum": "2020-11-02", "type": "ordinal", "scale": {"paddingInner": 0, "paddingOuter": 0.4},
                  "axis": {"values": ["2020-11-02","2020-12-01","2021-01-01","2021-02-01","2021-03-01","2021-04-01","2021-05-03","2021-06-01","2021-07-01"], "labels": false, "ticks": false, "domain": false, "grid": true, "bandPosition": 0.5, "title": null}},
            "x2": {"value": "width"},
            "y": {"field": "p", "type": "quantitative", "title": null, "scale": {"domain": [0.68636, 0.80909], "nice": false, "zero": false},
                  "axis": {"orient": "right", "values": [0.69,0.70,0.71,0.72,0.73,0.74,0.75,0.76,0.77,0.78,0.79,0.80], "tickCount": 20, "format": ".4f", "grid": true, "tickSize": 4, "labelPadding": 3, "title": null}}
          }
        },
        {
          "data": {"name": "one"},
          "mark": {"type": "text", "align": "left", "baseline": "alphabetic", "font": "DejaVu Sans Condensed, Liberation Sans Narrow, sans-serif", "fontSize": 23, "fontWeight": "bold", "color": "#8e8e8e", "opacity": 0.9},
          "encoding": {"x": {"datum": "2020-10-27", "type": "ordinal"}, "y": {"datum": 0.6921, "type": "quantitative"}, "text": {"value": "FX"}}
        },
        {
          "data": {"name": "one"},
          "mark": {"type": "text", "align": "left", "baseline": "alphabetic", "font": "DejaVu Sans Condensed, Liberation Sans Narrow, sans-serif", "fontSize": 23, "fontWeight": "bold", "color": "#f4c08a", "opacity": 0.9},
          "encoding": {"x": {"datum": "2020-11-03", "type": "ordinal"}, "y": {"datum": 0.6921, "type": "quantitative"}, "text": {"value": "STREET"}}
        },
        {
          "data": {"name": "fib"},
          "mark": {"type": "text", "align": "left", "baseline": "bottom", "dy": -1, "fontSize": 11.5, "color": "#222222"},
          "encoding": {"x": {"datum": "2020-11-02", "type": "ordinal"}, "y": {"field": "p", "type": "quantitative"}, "text": {"field": "lv"}}
        },
        {
          "data": {"name": "one"},
          "mark": {"type": "rule", "color": "#2d4a7a", "strokeWidth": 1},
          "encoding": {"y": {"datum": 0.73275, "type": "quantitative"}}
        },
        {
          "data": {"name": "px"},
          "mark": {"type": "rule", "strokeWidth": 1},
          "encoding": {
            "x": {"field": "d", "type": "ordinal"},
            "y": {"field": "l", "type": "quantitative"},
            "y2": {"field": "h"},
            "color": {"condition": {"test": "datum.c >= datum.o", "value": "#35866f"}, "value": "#d65a48"}
          }
        },
        {
          "data": {"name": "px"},
          "mark": {"type": "bar", "width": {"band": 0.78}, "strokeWidth": 0.8},
          "encoding": {
            "x": {"field": "d", "type": "ordinal"},
            "y": {"field": "o", "type": "quantitative"},
            "y2": {"field": "c"},
            "color": {"condition": {"test": "datum.c >= datum.o", "value": "#35866f"}, "value": "#d65a48"},
            "stroke": {"condition": {"test": "datum.c >= datum.o", "value": "#a6d2c4"}, "value": "#f2b4ab"}
          }
        },
        {
          "data": {"name": "sma"},
          "mark": {"type": "line", "color": "#0a2cff", "strokeWidth": 2.5, "clip": true, "interpolate": "monotone"},
          "encoding": {"x": {"field": "d", "type": "ordinal"}, "y": {"field": "v", "type": "quantitative"}}
        },
        {
          "data": {"name": "one"},
          "mark": {"type": "point", "filled": true, "shape": "M0.4,-11H78.4V11H0.4Z", "size": 4, "color": "#000000", "opacity": 0.63, "strokeWidth": 0},
          "encoding": {"x": {"datum": "2020-10-23", "type": "ordinal"}, "y": {"datum": 0.80424, "type": "quantitative"}}
        },
        {
          "data": {"name": "one"},
          "mark": {"type": "point", "filled": true, "shape": "M0.4,-11H3.4V11H0.4Z", "size": 4, "color": "#2a8a70", "opacity": 1, "strokeWidth": 0},
          "encoding": {"x": {"datum": "2020-10-23", "type": "ordinal"}, "y": {"datum": 0.80424, "type": "quantitative"}}
        },
        {
          "data": {"name": "one"},
          "mark": {"type": "text", "align": "left", "baseline": "middle", "dx": 11.4, "fontSize": 12, "fontWeight": "bold", "color": "#ffffff"},
          "encoding": {"x": {"datum": "2020-10-23", "type": "ordinal"}, "y": {"datum": 0.80424, "type": "quantitative"}, "text": {"value": "AUD/USD"}}
        },
        {
          "data": {"name": "one"},
          "mark": {"type": "point", "filled": true, "shape": "M0.4,-11H91.4V11H0.4Z", "size": 4, "color": "#000000", "opacity": 0.63, "strokeWidth": 0},
          "encoding": {"x": {"datum": "2020-10-23", "type": "ordinal"}, "y": {"datum": 0.79606, "type": "quantitative"}}
        },
        {
          "data": {"name": "one"},
          "mark": {"type": "point", "filled": true, "shape": "M0.4,-11H3.4V11H0.4Z", "size": 4, "color": "#0a2cff", "opacity": 1, "strokeWidth": 0},
          "encoding": {"x": {"datum": "2020-10-23", "type": "ordinal"}, "y": {"datum": 0.79606, "type": "quantitative"}}
        },
        {
          "data": {"name": "one"},
          "mark": {"type": "text", "align": "left", "baseline": "middle", "dx": 11.4, "fontSize": 12, "fontWeight": "bold", "color": "#ffffff"},
          "encoding": {"x": {"datum": "2020-10-23", "type": "ordinal"}, "y": {"datum": 0.79606, "type": "quantitative"}, "text": {"value": "SMA (200,0)"}}
        },
        {
          "data": {"name": "one"},
          "mark": {"type": "point", "filled": true, "shape": "M4.7,0L9.7,-7.5H63.7V7.5H9.7Z", "size": 4, "color": "#2e4a6e", "opacity": 1, "strokeWidth": 0},
          "encoding": {"x": {"datum": "2021-07-19", "type": "ordinal"}, "y": {"datum": 0.73275, "type": "quantitative"}}
        },
        {
          "data": {"name": "one"},
          "mark": {"type": "text", "align": "left", "baseline": "middle", "dx": 12, "dy": 0.5, "fontSize": 12, "fontWeight": "bold", "color": "#ffffff"},
          "encoding": {"x": {"datum": "2021-07-19", "type": "ordinal"}, "y": {"datum": 0.73275, "type": "quantitative"}, "text": {"value": "0.732750"}}
        }
      ]
    },
    {
      "width": 983,
      "height": 69,
      "layer": [
        {
          "data": {"name": "px"},
          "mark": {"type": "bar", "width": {"band": 0.9}},
          "encoding": {
            "x": {"field": "d", "type": "ordinal", "title": null, "scale": {"paddingInner": 0, "paddingOuter": 0.4},
                  "axis": {"values": ["2020-11-02","2020-12-01","2021-01-01","2021-02-01","2021-03-01","2021-04-01","2021-05-03","2021-06-01","2021-07-01"], "labels": false, "ticks": false, "domain": false, "grid": true, "bandPosition": 0.5, "title": null}},
            "y": {"field": "m", "type": "quantitative", "title": null, "scale": {"domain": [-0.0084, 0.0123], "nice": false, "zero": false},
                  "axis": {"orient": "right", "values": [0], "format": ".4f", "grid": true, "tickSize": 4, "labelPadding": 3, "title": null}},
            "y2": {"datum": 0},
            "color": {"condition": {"test": "datum.m >= 0", "value": "#00ff00"}, "value": "#ff0000"}
          }
        },
        {
          "data": {"name": "sig"},
          "mark": {"type": "line", "color": "#ff7f27", "strokeWidth": 1, "interpolate": "monotone"},
          "encoding": {"x": {"field": "d", "type": "ordinal"}, "y": {"field": "v", "type": "quantitative"}}
        },
        {
          "data": {"name": "macd"},
          "mark": {"type": "line", "color": "#1f3dff", "strokeWidth": 1, "interpolate": "monotone"},
          "encoding": {"x": {"field": "d", "type": "ordinal"}, "y": {"field": "v", "type": "quantitative"}}
        },
        {
          "data": {"name": "one"},
          "mark": {"type": "point", "filled": true, "shape": "M0.4,-11H110.4V11H0.4Z", "size": 4, "color": "#000000", "opacity": 0.63, "strokeWidth": 0},
          "encoding": {"x": {"datum": "2020-10-23", "type": "ordinal"}, "y": {"datum": 0.0075, "type": "quantitative"}}
        },
        {
          "data": {"name": "one"},
          "mark": {"type": "point", "filled": true, "shape": "M0.4,-11H3.4V11H0.4Z", "size": 4, "color": "#1a3cff", "opacity": 1, "strokeWidth": 0},
          "encoding": {"x": {"datum": "2020-10-23", "type": "ordinal"}, "y": {"datum": 0.0075, "type": "quantitative"}}
        },
        {
          "data": {"name": "one"},
          "mark": {"type": "text", "align": "left", "baseline": "middle", "dx": 11.4, "fontSize": 12, "fontWeight": "bold", "color": "#ffffff"},
          "encoding": {"x": {"datum": "2020-10-23", "type": "ordinal"}, "y": {"datum": 0.0075, "type": "quantitative"}, "text": {"value": "MACD (12,26,9)"}}
        }
      ]
    },
    {
      "width": 983,
      "height": 70,
      "layer": [
        {
          "data": {"name": "one"},
          "mark": {"type": "rect", "color": "#7dfb7d"},
          "encoding": {"y": {"datum": 70, "type": "quantitative"}, "y2": {"datum": 100}}
        },
        {
          "data": {"name": "one"},
          "mark": {"type": "rect", "color": "#f97b7b"},
          "encoding": {"y": {"datum": 0, "type": "quantitative"}, "y2": {"datum": 30}}
        },
        {
          "data": {"values": [{"lv": 70}, {"lv": 30}]},
          "mark": {"type": "rule", "color": "#222222", "strokeWidth": 1, "strokeDash": [3, 2]},
          "encoding": {"y": {"field": "lv", "type": "quantitative"}}
        },
        {
          "data": {"name": "one"},
          "mark": {"type": "rule", "color": "#222222", "strokeWidth": 1},
          "encoding": {"x": {"datum": "2021-07-19", "type": "ordinal"}, "y": {"datum": 70, "type": "quantitative"}, "y2": {"datum": 100}}
        },
        {
          "data": {"name": "one"},
          "mark": {"type": "rule", "color": "#222222", "strokeWidth": 1},
          "encoding": {"x": {"datum": "2021-07-19", "type": "ordinal"}, "y": {"datum": 0, "type": "quantitative"}, "y2": {"datum": 30}}
        },
        {
          "data": {"name": "rsi"},
          "mark": {"type": "line", "color": "#2544f0", "strokeWidth": 1},
          "encoding": {
            "x": {"field": "d", "type": "ordinal", "title": null, "scale": {"paddingInner": 0, "paddingOuter": 0.4},
                  "axis": {"values": ["2020-10-26","2020-11-02","2020-11-10","2020-11-18","2020-12-01","2020-12-09","2020-12-17","2020-12-25","2021-01-01","2021-01-11","2021-01-19","2021-02-01","2021-02-09","2021-02-17","2021-03-01","2021-03-09","2021-03-17","2021-03-25","2021-04-01","2021-04-09","2021-04-19","2021-05-03","2021-05-11","2021-05-19","2021-06-01","2021-06-09","2021-06-17","2021-06-25","2021-07-01","2021-07-09","2021-07-19"],
                           "labelExpr": "indexof(['2020-10-26','2020-11-02','2020-12-01','2021-01-01','2021-02-01','2021-03-01','2021-04-01','2021-05-03','2021-06-01','2021-07-01'], datum.value) >= 0 ? ['Jan','Feb','Mar','Apr','May','Jun','Jul','Aug','Sep','Oct','Nov','Dec'][toNumber(substring(datum.value, 5, 7)) - 1] : '' + toNumber(substring(datum.value, 8, 10))",
                           "labelAngle": 0, "labelAlign": "center", "labelFlush": false, "labelOverlap": false, "labelFontSize": 11, "labelColor": "#777777", "tickSize": 4, "labelPadding": 7, "domain": false, "grid": true, "bandPosition": 0.5, "title": null,
                           "gridColor": {"condition": {"test": "indexof(['2020-11-02','2020-12-01','2021-01-01','2021-02-01','2021-03-01','2021-04-01','2021-05-03','2021-06-01','2021-07-01'], datum.value) >= 0", "value": "#e0e0e0"}, "value": "rgba(0,0,0,0)"}}},
            "y": {"field": "v", "type": "quantitative", "title": null, "scale": {"domain": [-3.03, 103.03], "nice": false, "zero": false},
                  "axis": {"orient": "right", "values": [0, 50], "tickCount": 5, "format": ".4f", "grid": true, "tickSize": 4, "labelPadding": 3, "title": null}}
          }
        },
        {
          "data": {"name": "one"},
          "mark": {"type": "point", "filled": true, "shape": "M0.4,-11H111.4V11H0.4Z", "size": 4, "color": "#000000", "opacity": 0.63, "strokeWidth": 0},
          "encoding": {"x": {"datum": "2020-10-23", "type": "ordinal"}, "y": {"datum": 77.27, "type": "quantitative"}}
        },
        {
          "data": {"name": "one"},
          "mark": {"type": "point", "filled": true, "shape": "M0.4,-11H3.4V11H0.4Z", "size": 4, "color": "#00e000", "opacity": 1, "strokeWidth": 0},
          "encoding": {"x": {"datum": "2020-10-23", "type": "ordinal"}, "y": {"datum": 77.27, "type": "quantitative"}}
        },
        {
          "data": {"name": "one"},
          "mark": {"type": "text", "align": "left", "baseline": "middle", "dx": 11.4, "fontSize": 12, "fontWeight": "bold", "color": "#ffffff"},
          "encoding": {"x": {"datum": "2020-10-23", "type": "ordinal"}, "y": {"datum": 77.27, "type": "quantitative"}, "text": {"value": "RSI (14,70,30,1)"}}
        }
      ]
    }
  ]
}
